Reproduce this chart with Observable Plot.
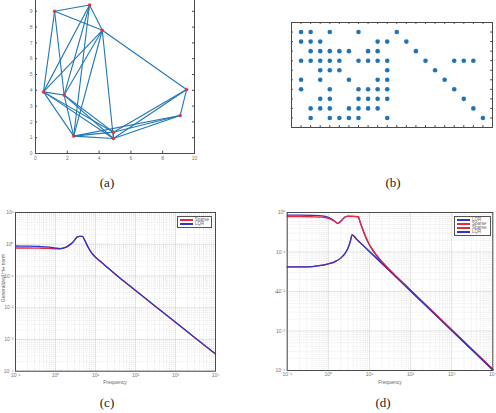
<!DOCTYPE html>
<html>
<head>
<meta charset="utf-8">
<script src="https://cdn.jsdelivr.net/npm/d3@7"></script>
<script src="https://cdn.jsdelivr.net/npm/@observablehq/plot@0.6"></script>
<style>
  html, body { margin: 0; padding: 0; background: #fff; }
  #page { position: relative; width: 496px; height: 413px; overflow: hidden; background: #fff; }
  #page svg { position: absolute; overflow: visible; }
  .cap { position: absolute; font-family: "Liberation Serif", "DejaVu Serif", serif; font-size: 13px; color: #222; transform: translateX(-50%); }
  .axlab { position: absolute; font-family: "Liberation Sans", Arial, sans-serif; font-size: 5px; color: #666; white-space: nowrap; }
  .legend { position: absolute; background: #fff; border: 1px solid #555; font-family: "Liberation Sans", sans-serif; font-size: 4.5px; color: #666; padding: 1px 2px; line-height: 4px; }
  .legend div { display: flex; align-items: center; height: 4px; }
  .legend span.sw { display: inline-block; width: 13px; height: 0; border-top: 2px solid; margin-right: 2px; }
</style>
</head>
<body>
<div id="page"></div>
<script>
// ---------- (a) graph: node positions and edges ----------
const nodeX = [1.2, 3.4, 4.2, 0.5, 1.8, 2.4, 4.9, 4.9, 9.1, 9.5];
const nodeY = [9.0, 9.4, 7.8, 3.9, 3.7, 1.1, 1.35, 0.95, 2.4, 4.05];
const edgeFrom = [0, 0, 1, 2, 0, 0, 4, 1, 1, 1, 2, 2, 2, 2, 3, 3, 3, 3, 4, 4, 5, 5, 5, 6, 7, 6, 7, 8, 6];
const edgeTo   = [1, 2, 2, 9, 3, 4, 5, 3, 4, 5, 3, 4, 5, 7, 4, 5, 6, 7, 6, 7, 6, 7, 8, 8, 8, 9, 9, 9, 7];
const axisTicksAx = [0, 2, 4, 6, 8, 10];
const axisTicksAy = [0, 1, 2, 3, 4, 5, 6, 7, 8, 9];

// ---------- (b) sparsity pattern: nonzero columns of each row ----------
const spyRows = [
  [1, 2, 4, 7, 11],
  [1, 2, 3, 9, 10, 12],
  [2, 3, 4, 5, 6, 8, 9, 13],
  [1, 2, 3, 4, 5, 7, 8, 9, 10, 14, 17, 18, 19],
  [3, 4, 5, 10, 15],
  [1, 3, 6, 9, 10, 16],
  [1, 4, 7, 8, 9, 10, 17],
  [3, 4, 7, 8, 9, 10, 18],
  [2, 3, 4, 6, 7, 8, 9, 19],
  [2, 4, 5, 6, 7, 10, 20]
];
const spyCols = 20;

// ---------- (c) frequency response ----------
const freqC   = [0.1, 0.2, 0.4, 0.7, 1.0, 1.3, 1.7, 2.0, 2.5, 3.0, 3.5, 4.0, 4.7, 5.2, 5.7, 6.5, 8.0, 10, 14, 20, 40, 100, 300, 1000, 3000, 10000];
const sparseC = [0.76, 0.76, 0.75, 0.74, 0.72, 0.72, 0.78, 0.86, 1.05, 1.35, 1.7, 1.76, 1.76, 1.45, 1.15, 0.82, 0.53, 0.39, 0.27, 0.185, 0.088, 0.035, 0.0116, 0.0035, 0.00116, 0.00035];
const lqrC    = [0.88, 0.87, 0.85, 0.81, 0.76, 0.73, 0.78, 0.86, 1.05, 1.35, 1.7, 1.76, 1.76, 1.45, 1.15, 0.82, 0.53, 0.39, 0.27, 0.185, 0.088, 0.035, 0.0116, 0.0035, 0.00116, 0.00035];

// ---------- (d) frequency response, two channels ----------
const freqD      = [0.1, 0.2, 0.4, 0.7, 1.0, 1.4, 1.7, 2.1, 2.6, 3.0, 4.0, 5.3, 6.0, 7.0, 8.5, 10, 12, 15, 20, 25, 30, 40, 100, 1000, 10000];
const lqrUpperD  = [0.86, 0.86, 0.85, 0.82, 0.75, 0.62, 0.53, 0.63, 0.78, 0.81, 0.80, 0.78, 0.55, 0.35, 0.21, 0.15, 0.11, 0.08, 0.056, 0.044, 0.036, 0.027, 0.0108, 0.00108, 0.000108];
const sparseUpperD = [0.79, 0.79, 0.78, 0.76, 0.71, 0.60, 0.53, 0.63, 0.78, 0.80, 0.80, 0.78, 0.56, 0.36, 0.22, 0.155, 0.115, 0.083, 0.058, 0.045, 0.037, 0.027, 0.0108, 0.00108, 0.000108];
const freqD2     = [0.1, 0.3, 0.6, 1.0, 1.5, 2.0, 2.5, 3.0, 3.4, 3.8, 5.0, 10, 30, 100, 1000, 10000];
const lowerD     = [0.042, 0.042, 0.045, 0.05, 0.058, 0.07, 0.09, 0.125, 0.18, 0.27, 0.205, 0.103, 0.0343, 0.0103, 0.00103, 0.000103];

const legendC = ["Sparse", "LQR"];
const legendD = ["LQR", "Sparse", "Sparse", "LQR"];

const RED = "#e8283c";
const BLUE = "#2f35c8";
const MBLUE = "#1f77b4";
const FRAME = "#4a4a4a";
const tickStyle = {fontSize: "5px", color: "#777", background: "transparent", fontFamily: "'Liberation Sans', Arial, sans-serif"};

const page = document.getElementById("page");
function place(el, left, top) {
  el.style.left = left + "px";
  el.style.top = top + "px";
  page.append(el);
}
function text(cls, str, left, top, rotate) {
  const d = document.createElement("div");
  d.className = cls;
  d.textContent = str;
  d.style.left = left + "px";
  d.style.top = top + "px";
  d.style.transform = rotate ? "translate(-50%,-50%) rotate(-90deg)" : "translateX(-50%)";
  page.append(d);
}

// log-scale tick helpers
const sup = {"-": "⁻", "0": "⁰", "1": "¹", "2": "²", "3": "³", "4": "⁴", "5": "⁵"};
const pow10 = d => "10" + String(Math.round(Math.log10(d))).replace(/./g, c => sup[c]);
function decades(lo, hi) { const out = []; for (let e = lo; e <= hi; e++) out.push(10 ** e); return out; }
function minors(lo, hi) { const out = []; for (let e = lo; e < hi; e++) for (let m = 2; m < 10; m++) out.push(m * 10 ** e); return out; }

// ---------- (a) ----------
const edges = edgeFrom.map((a, i) => ({x1: nodeX[a], y1: nodeY[a], x2: nodeX[edgeTo[i]], y2: nodeY[edgeTo[i]]}));
const nodes = nodeX.map((x, i) => ({x, y: nodeY[i]}));
const ticksAx = d3.range(0, 11);
const plotA = Plot.plot({
  width: 210, height: 175, marginLeft: 35, marginRight: 16, marginTop: 5, marginBottom: 12,
  style: tickStyle,
  x: {domain: [0, 10], ticks: axisTicksAx, tickSize: 0, tickPadding: 3, label: null},
  y: {domain: [0, 10], ticks: axisTicksAy, tickSize: 0, tickPadding: 3, label: null},
  marks: [
    Plot.link(edges, {x1: "x1", y1: "y1", x2: "x2", y2: "y2", stroke: MBLUE, strokeWidth: 1.1}),
    Plot.dot(nodes, {x: "x", y: "y", r: 1.5, fill: "#e8323c", stroke: "#e8323c", strokeWidth: 0.5}),
    Plot.ruleX(axisTicksAx, {x: d => d, y1: 0, y2: 0.15, stroke: FRAME}),
    Plot.ruleX(axisTicksAx, {x: d => d, y1: 10, y2: 9.85, stroke: FRAME}),
    Plot.ruleY(ticksAx, {y: d => d, x1: 0, x2: 0.13, stroke: FRAME}),
    Plot.ruleY(ticksAx, {y: d => d, x1: 10, x2: 9.87, stroke: FRAME}),
    Plot.frame({stroke: FRAME})
  ]
});
place(plotA, 0, -10);

// ---------- (b) ----------
const spy = spyRows.flatMap((cols, r) => cols.map(c => ({col: c, row: r + 1})));
const colTicks = d3.range(1, spyCols + 1);
const rowTicks = d3.range(1, spyRows.length + 1);
const plotB = Plot.plot({
  width: 216, height: 140, marginLeft: 11, marginRight: 4, marginTop: 22, marginBottom: 13,
  style: tickStyle,
  x: {domain: [0, spyCols + 1], axis: null},
  y: {domain: [0, spyRows.length + 1], reverse: true, axis: null},
  marks: [
    Plot.ruleX(colTicks, {x: d => d, y1: 0, y2: 0.2, stroke: FRAME}),
    Plot.ruleX(colTicks, {x: d => d, y1: 11, y2: 10.8, stroke: FRAME}),
    Plot.ruleY(rowTicks, {y: d => d, x1: 0, x2: 0.2, stroke: FRAME}),
    Plot.ruleY(rowTicks, {y: d => d, x1: 21, x2: 20.8, stroke: FRAME}),
    Plot.dot(spy, {x: "col", y: "row", r: 2.3, fill: "#1f74b8"}),
    Plot.frame({stroke: FRAME})
  ]
});
place(plotB, 280, 0);

// ---------- shared log-log frame ----------
function bode(opts) {
  const {width, height, marginLeft, marginRight, marginTop, marginBottom, yLo, yHi, series} = opts;
  return Plot.plot({
    width, height, marginLeft, marginRight, marginTop, marginBottom,
    style: tickStyle,
    x: {type: "log", domain: [0.1, 1e4], ticks: decades(-1, 4), tickFormat: pow10, tickSize: 0, tickPadding: 2, label: null},
    y: {type: "log", domain: [10 ** yLo, 10 ** yHi], ticks: decades(yLo, yHi), tickFormat: pow10, tickSize: 0, tickPadding: 2, label: null},
    marks: [
      Plot.ruleX(minors(-1, 4), {x: d => d, stroke: "#d6d6d6", strokeWidth: 0.5, strokeDasharray: "1,1"}),
      Plot.ruleY(minors(yLo, yHi), {y: d => d, stroke: "#d6d6d6", strokeWidth: 0.5, strokeDasharray: "1,1"}),
      Plot.ruleX(decades(-1, 4), {x: d => d, stroke: "#d0d0d0", strokeWidth: 0.6}),
      Plot.ruleY(decades(yLo, yHi), {y: d => d, stroke: "#d0d0d0", strokeWidth: 0.6}),
      ...series.map(s => Plot.line(s.f.map((f, i) => ({f, v: s.v[i]})), {x: "f", y: "v", stroke: s.color, strokeWidth: 1.3, curve: "monotone-x"})),
      Plot.frame({stroke: FRAME})
    ]
  });
}

// ---------- (c) ----------
const plotC = bode({
  width: 230, height: 190, marginLeft: 15, marginRight: 15, marginTop: 12, marginBottom: 19.3,
  yLo: -4, yHi: 1,
  series: [
    {f: freqC, v: sparseC, color: RED},
    {f: freqC, v: lqrC, color: BLUE}
  ]
});
place(plotC, 0, 200);
text("axlab", "Frequency", 115, 379);
text("axlab", "Generalized H∞ norm", 3, 278, true);

// ---------- (d) ----------
const plotD = bode({
  width: 246, height: 190, marginLeft: 36.7, marginRight: 3.7, marginTop: 12, marginBottom: 20,
  yLo: -4, yHi: 0,
  series: [
    {f: freqD, v: lqrUpperD, color: BLUE},
    {f: freqD, v: sparseUpperD, color: RED},
    {f: freqD2, v: lowerD, color: RED},
    {f: freqD2, v: lowerD, color: BLUE}
  ]
});
place(plotD, 250, 200);
text("axlab", "Frequency", 390, 379);
text("axlab", "γ", 276, 292, true);

// ---------- legends ----------
function legend(names, colors, left, top, width) {
  const box = document.createElement("div");
  box.className = "legend";
  box.style.left = left + "px";
  box.style.top = top + "px";
  box.style.width = width + "px";
  names.forEach((n, i) => {
    const row = document.createElement("div");
    const sw = document.createElement("span");
    sw.className = "sw";
    sw.style.borderTopColor = colors[i];
    row.append(sw, document.createTextNode(n));
    box.append(row);
  });
  page.append(box);
}
legend(legendC, [RED, BLUE], 177, 215.5, 29);
legend(legendD, [BLUE, RED, RED, BLUE], 454, 215.5, 31);

// ---------- captions ----------
[["(a)", 107, 175], ["(b)", 393, 175], ["(c)", 107, 395], ["(d)", 383, 395]].forEach(([t, x, y]) => text("cap", t, x, y));
</script>
</body>
</html>
